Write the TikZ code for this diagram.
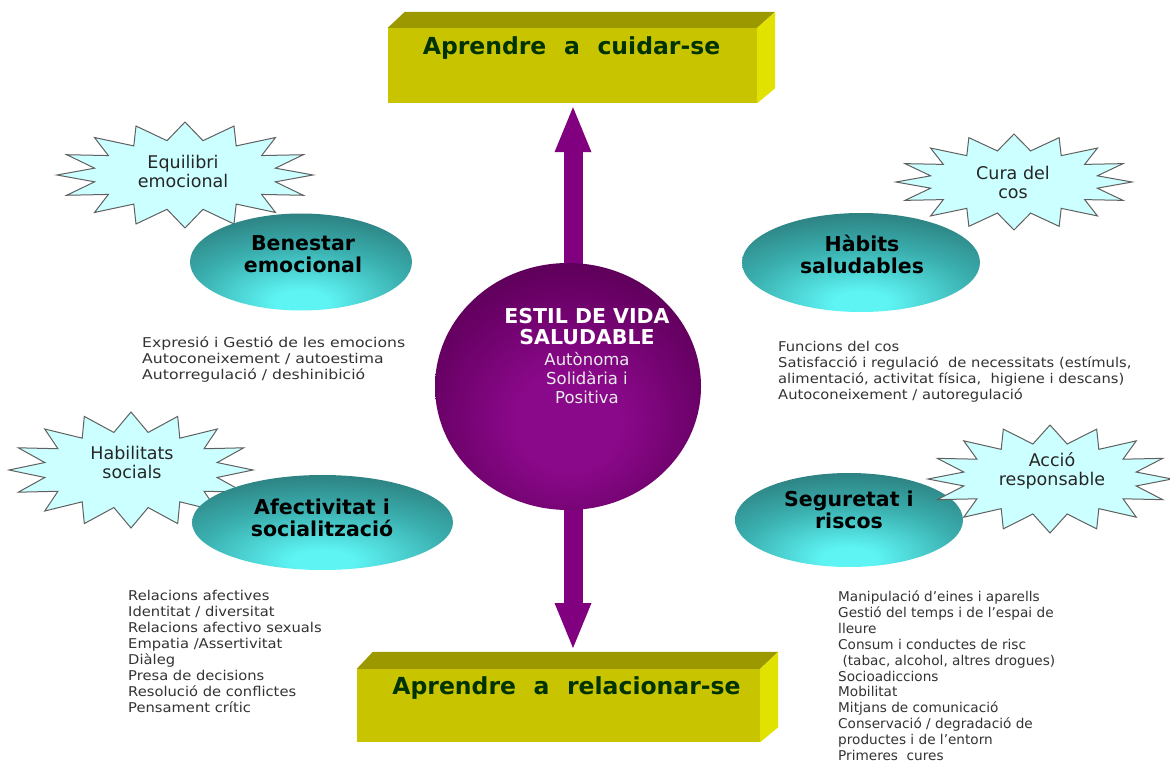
\documentclass[tikz,border=0pt]{standalone}
\usepackage{fontspec}
\setmainfont{DejaVu Sans}
\usetikzlibrary{shapes.geometric,arrows.meta,calc}
\definecolor{boxfrontc}{HTML}{C8C400}
\definecolor{boxtopc}{HTML}{9C9800}
\definecolor{boxsidec}{HTML}{E2E200}
\definecolor{boxtext}{HTML}{003300}
\definecolor{tealB}{HTML}{5EF4F4}
\definecolor{tealM}{HTML}{3AAEAE}
\definecolor{tealD}{HTML}{2A7676}
\definecolor{purpB}{HTML}{8A088A}
\definecolor{purpM}{HTML}{640060}
\definecolor{purpD}{HTML}{3A0036}
\definecolor{arrowc}{HTML}{800080}
\definecolor{burstfill}{HTML}{CCFFFF}
\definecolor{burstline}{HTML}{606060}
\definecolor{listc}{HTML}{333333}
\pgfdeclareradialshading{tealshade}{\pgfpoint{0bp}{-22bp}}{color(0bp)=(tealB); color(6bp)=(tealB); color(24bp)=(tealM); color(42bp)=(tealD); color(95bp)=(tealD)}
\pgfdeclareradialshading{purpshade}{\pgfpoint{0bp}{-8bp}}{color(0bp)=(purpB); color(10bp)=(purpB); color(28bp)=(purpM); color(44bp)=(purpD); color(95bp)=(purpD)}
\newcommand\burst[4]{%
  \draw[burststy] plot[samples at={0,...,31}, variable=\k]
    ({#1+ifthenelse(mod(\k,2)==0,1,0.72)*#3*cos(\k*11.25)},
     {#2+ifthenelse(mod(\k,2)==0,1,0.66)*#4*sin(\k*11.25)}) -- cycle;}
\begin{document}
\begin{tikzpicture}[x=1pt,y=-1pt,
  boxfront/.style={rectangle, fill=boxfrontc, inner sep=0pt},
  boxtopsty/.style={fill=boxtopc},
  boxsidesty/.style={fill=boxsidec},
  boxtxt/.style={font=\bfseries\fontsize{23.5}{26}\selectfont, text=boxtext, inner sep=0pt},
  tealell/.style={ellipse, shade, shading=tealshade, inner sep=0pt},
  ellipsetxt/.style={font=\bfseries\fontsize{20.5}{22}\selectfont, text=black, align=center, inner sep=0pt},
  burststy/.style={fill=burstfill, draw=burstline, line width=1pt, line join=miter},
  bursttxt/.style={font=\fontsize{17.5}{18.5}\selectfont, text=black!85, align=center, inner sep=0pt},
  listtxt/.style={font=\fontsize{13.5}{15.9}\selectfont, text=listc, align=left, inner sep=0pt, anchor=north west},
  parrow/.style={draw=arrowc, line width=19pt, -{Triangle[width=37pt,length=45pt,line width=0pt]}, shorten >=4pt}
]
\useasboundingbox (0,0) rectangle (1170,762);
\fill[white] (0,0) rectangle (1170,762);

% top 3D box
\node[boxfront, minimum width=369pt, minimum height=75pt] (top) at (572.5,65.5) {};
\fill[boxtopsty] (top.north west) -- ++(17,-16) -- ($(top.north east)+(18,-16)$) -- (top.north east) -- cycle;
\fill[boxsidesty] (top.north east) -- ++(18,-16) -- ($(top.south east)+(18,-15)$) -- (top.south east) -- cycle;
\node[boxtxt] (toptext) at (571.5,48) {Aprendre\hspace{0.75em}a\hspace{0.75em}cuidar-se};

% bottom 3D box
\node[boxfront, minimum width=403pt, minimum height=73pt] (bot) at (558.5,705.5) {};
\fill[boxtopsty] (bot.north west) -- ++(16,-17) -- ($(bot.north east)+(18,-17)$) -- (bot.north east) -- cycle;
\fill[boxsidesty] (bot.north east) -- ++(18,-17) -- ($(bot.south east)+(18,-15)$) -- (bot.south east) -- cycle;
\node[boxtxt] (bottext) at (566.5,688) {Aprendre\hspace{0.75em}a\hspace{0.75em}relacionar-se};
\coordinate (bottop) at (573,652);

% arrows
\coordinate (a1) at (573,300);
\coordinate (a2) at (573,470);
\draw[parrow] (a1) -- (a1 |- top.south);
\draw[parrow] (a2) -- (bottop);

% central circle
\node[ellipse, shade, shading=purpshade, minimum width=266pt, minimum height=247pt, inner sep=0pt] (center) at (568,386.5) {};
\node[font=\bfseries\fontsize{20.5}{21}\selectfont, text=white, align=center, inner sep=0pt] (ctitle) at (587,326.5) {ESTIL DE VIDA\\SALUDABLE};
\node[font=\fontsize{16.5}{19.2}\selectfont, text=white!92!black, align=center, inner sep=0pt] (csub) at (587,378) {Autònoma\\Solidària i\\Positiva};

% upper left
\burst{185}{175}{128}{53}
\node[bursttxt] (equil) at (183,171.5) {Equilibri\\emocional};
\node[tealell, minimum width=222pt, minimum height=97pt] (ben) at (301,262) {};
\node[ellipsetxt] (bentxt) at (303,254) {Benestar\\emocional};

% upper right
\burst{1014}{182}{118}{48}
\node[bursttxt] (cura) at (1013,182.5) {Cura del\\cos};
\node[tealell, minimum width=238pt, minimum height=99pt] (hab) at (861,262.5) {};
\node[ellipsetxt] (habtxt) at (862,254) {Hàbits\\saludables};

% lower left
\burst{131}{470}{122}{58}
\node[bursttxt] (habil) at (132,462.5) {Habilitats\\socials};
\node[tealell, minimum width=261pt, minimum height=95pt] (afec) at (322.5,522.5) {};
\node[ellipsetxt] (afectxt) at (322,518) {Afectivitat i\\socialització};

% lower right
\node[tealell, minimum width=228pt, minimum height=94pt] (seg) at (849,520) {};
\node[ellipsetxt] (segtxt) at (849,510) {Seguretat i\\riscos};
\burst{1050}{479}{122}{54}
\node[bursttxt] (accio) at (1052,471) {Acció\\responsable};

% lists
\node[listtxt, xscale=1.16] (l1) at (142,336.5) {Expresió i Gestió de les emocions\\Autoconeixement / autoestima\\Autorregulació / deshinibició};
\node[listtxt, xscale=1.09] (r1) at (778,341.5) {Funcions del cos\\Satisfacció i regulació\ \ de necessitats (estímuls,\\alimentació, activitat física,\ \ higiene i descans)\\Autoconeixement / autoregulació};
\node[listtxt, xscale=1.09] (l2) at (128,590.5) {Relacions afectives\\Identitat / diversitat\\Relacions afectivo sexuals\\Empatia /Assertivitat\\Diàleg\\Presa de decisions\\Resolució de conflictes\\Pensament crític};
\node[listtxt, xscale=1.01] (r2) at (838,590.5) {Manipulació d’eines i aparells\\Gestió del temps i de l’espai de\\lleure\\Consum i conductes de risc\\\ (tabac, alcohol, altres drogues)\\Socioadiccions\\Mobilitat\\Mitjans de comunicació\\Conservació / degradació de\\productes i de l’entorn\\Primeres\ \ cures};
\end{tikzpicture}
\end{document}
